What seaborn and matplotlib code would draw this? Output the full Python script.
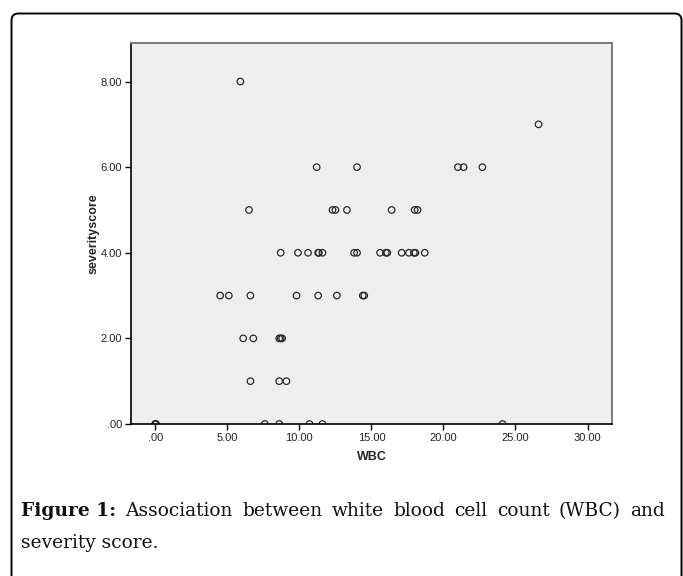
import matplotlib
matplotlib.use("Agg")
import matplotlib.pyplot as plt
import matplotlib.patches as mpatches
import matplotlib.transforms as mtransforms
from matplotlib.ticker import FixedLocator, FuncFormatter
import pandas as pd
import seaborn as sns

sns.set_theme(style="white")
plt.rcParams['font.family'] = ['Liberation Sans', 'DejaVu Sans']

# WBC vs severity score
wbc = [5.9,
       26.6,
       11.2, 14.0, 21.0, 21.4, 22.7,
       6.5, 12.3, 12.5, 13.3, 16.4, 18.0, 18.2,
       8.7, 9.9, 10.6, 11.3, 11.35, 11.6, 13.8, 14.0, 15.6, 16.0, 16.1,
       17.1, 17.6, 17.95, 18.05, 18.7,
       4.5, 5.1, 6.6, 9.8, 11.3, 12.6, 14.4, 14.5,
       6.1, 6.8, 8.6, 8.7, 8.8,
       6.6, 8.6, 9.1,
       0.0, 0.0, 0.05, 7.6, 8.6, 10.7, 11.6, 24.1]
severity = [8,
            7,
            6, 6, 6, 6, 6,
            5, 5, 5, 5, 5, 5, 5,
            4, 4, 4, 4, 4, 4, 4, 4, 4, 4, 4,
            4, 4, 4, 4, 4,
            3, 3, 3, 3, 3, 3, 3, 3,
            2, 2, 2, 2, 2,
            1, 1, 1,
            0, 0, 0, 0, 0, 0, 0, 0]

x_ticks = [0, 5, 10, 15, 20, 25, 30]
y_ticks = [0, 2, 4, 6, 8]

df = pd.DataFrame({'WBC': wbc, 'severityscore': severity})

W, H = 683, 576
fig = plt.figure(figsize=(W / 100, H / 100), dpi=100)
fig.patch.set_facecolor('white')

# rounded frame around the figure panel
frame = mpatches.FancyBboxPatch((11.5, -30), 670, H - 13.5 + 30,
                                boxstyle="round,pad=0,rounding_size=7",
                                fc='none', ec='black', lw=1.4,
                                transform=mtransforms.IdentityTransform())
fig.add_artist(frame)

ax = fig.add_axes([131 / W, 1 - 424 / H, (612 - 131) / W, (424 - 43) / H])
ax.set_facecolor('#eeeeee')

sns.scatterplot(data=df, x='WBC', y='severityscore', ax=ax,
                facecolors='none', edgecolors='#2a2a2a', linewidths=0.9,
                s=22, marker='o', legend=False)

ax.set_xlim(-1.69, 31.7)
ax.set_ylim(0, 8.9)

fmt = FuncFormatter(lambda v, p: f"{v:.2f}".lstrip('0') if v < 1 else f"{v:.2f}")
ax.xaxis.set_major_locator(FixedLocator(x_ticks))
ax.yaxis.set_major_locator(FixedLocator(y_ticks))
ax.xaxis.set_major_formatter(fmt)
ax.yaxis.set_major_formatter(fmt)
ax.tick_params(axis='both', which='major', direction='out', length=4.5,
               width=1, color='black', labelsize=8, labelcolor='#222222',
               bottom=True, left=True, pad=2)

for side in ['left', 'bottom']:
    ax.spines[side].set_color('black')
    ax.spines[side].set_linewidth(1.2)
for side in ['top', 'right']:
    ax.spines[side].set_color('#7a7a7a')
    ax.spines[side].set_linewidth(1.4)

ax.set_xlabel('WBC', fontsize=9, fontweight='bold', labelpad=6)
ax.set_ylabel('severityscore', fontsize=9, fontweight='bold', labelpad=1)

# justified caption
serif = ['DejaVu Serif']
line1 = [("Figure 1:", 'bold'), ("Association", 'normal'), ("between", 'normal'),
         ("white", 'normal'), ("blood", 'normal'), ("cell", 'normal'),
         ("count", 'normal'), ("(WBC)", 'normal'), ("and", 'normal')]
left_px, right_px = 21, 665
word_gap = 9
y1, y2 = 1 - 516 / H, 1 - 548 / H

base_size = 13
texts = [fig.text(0, y1, w, fontsize=base_size, fontweight=wt, family=serif,
                  color='#111111', ha='left', va='baseline') for w, wt in line1]
fig.canvas.draw()
r = fig.canvas.get_renderer()
natural = sum(t.get_window_extent(r).width for t in texts)
size = base_size * (right_px - left_px - word_gap * (len(texts) - 1)) / natural
for t in texts:
    t.set_fontsize(size)
fig.canvas.draw()
widths = [t.get_window_extent(r).width for t in texts]
gap = (right_px - left_px - sum(widths)) / (len(texts) - 1)
x = left_px
for t, w in zip(texts, widths):
    t.set_x(x / W)
    x += w + gap
fig.text(left_px / W, y2, "severity score.", fontsize=size, family=serif,
         color='#111111', ha='left', va='baseline')

fig.savefig('out.png', dpi=100)
